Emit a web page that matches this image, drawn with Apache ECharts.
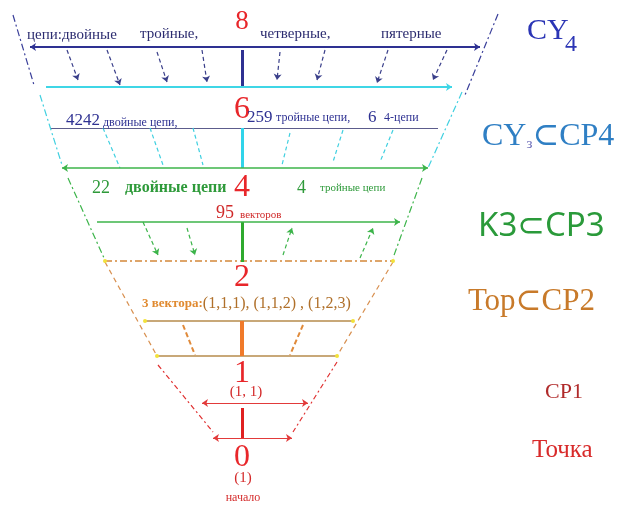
<!DOCTYPE html>
<html><head><meta charset="utf-8">
<script src="https://cdn.jsdelivr.net/npm/echarts@6/dist/echarts.min.js"></script>
<style>html,body{margin:0;padding:0;background:#fff}#c{width:622px;height:516px}</style>
</head><body><div id="c"></div>
<script>
// ---- data (diagram coordinates on a hidden 622x516 value grid) ----
const levelLabels = ['8', '6', '4', '2', '1', '0'];
const levelY = [22, 110, 188, 278, 374, 458];
const levelX = 242;

// horizontal rungs
const rungY  = [47, 87, 128, 168, 222, 261, 321, 356, 403, 438];
const rungX1 = [30, 46, 50, 62, 97, 105, 145, 157, 202, 213];
const rungX2 = [480, 452, 438, 428, 400, 393, 353, 337, 308, 292];
const rungKind = ['navy', 'cyan', 'navyThin', 'green', 'green', 'orangeDash', 'tan', 'tan', 'red', 'red'];
const rungArrow = ['both', 'end', 'none', 'both', 'end', 'none', 'none', 'none', 'both', 'both'];

// central stems
const stemTop = [50, 128, 222, 321, 408];
const stemBottom = [87, 168, 262, 356, 438];
const stemKind = ['navyBar', 'cyanBar', 'greenBar', 'orangeBar', 'redBar'];

// outer funnel edges [x1,y1,x2,y2]
const edges = [
  [13, 15, 34, 85], [498, 14, 465, 95],
  [40, 95, 62, 165], [462, 92, 428, 168],
  [68, 178, 104, 258], [422, 178, 393, 258],
  [105, 262, 157, 356], [393, 262, 337, 356],
  [158, 365, 213, 432], [337, 362, 293, 432]
];
const edgeKind = ['navyEdge', 'navyEdge', 'cyanEdge', 'cyanEdge', 'greenEdge', 'greenEdge', 'orangeEdge', 'orangeEdge', 'redEdge', 'redEdge'];

// slanted connectors [x1,y1,x2,y2] (arrow at second point when arrowed)
const slantsArrow = [
  [67, 50, 78, 80], [107, 50, 120, 85], [157, 52, 167, 82], [202, 50, 207, 82],
  [280, 52, 277, 80], [325, 50, 317, 80], [388, 50, 377, 83], [447, 50, 433, 80],
  [143, 222, 158, 255], [187, 228, 195, 255], [283, 255, 292, 228], [360, 258, 373, 228]
];
const slantsArrowKind = ['navySl', 'navySl', 'navySl', 'navySl', 'navySl', 'navySl', 'navySl', 'navySl',
  'greenSl', 'greenSl', 'greenSl', 'greenSl'];
const slantsPlain = [
  [103, 128, 120, 168], [150, 128, 163, 165], [193, 128, 203, 165],
  [290, 133, 282, 165], [343, 130, 333, 162], [393, 130, 380, 162],
  [183, 325, 195, 355], [303, 325, 290, 355]
];
const slantsPlainKind = ['cyanSl', 'cyanSl', 'cyanSl', 'cyanSl', 'cyanSl', 'cyanSl', 'orangeSl', 'orangeSl'];

// yellow end dots
const dotsX = [105, 393, 145, 353, 157, 337];
const dotsY = [261, 261, 321, 321, 356, 356];

// text labels [x, y, text, style, anchor]
const texts = [
  [27, 35, 'цепи:двойные', 'chain', 'l'],
  [140, 34, 'тройные,', 'chain', 'l'],
  [260, 34, 'четверные,', 'chain', 'l'],
  [381, 34, 'пятерные', 'chain', 'l'],
  [66, 121, '4242', 'num6', 'l'],
  [103, 123, 'двойные цепи,', 'small6', 'l'],
  [247, 118, '259', 'num6', 'l'],
  [276, 118, 'тройные цепи,', 'small6', 'l'],
  [368, 118, '6', 'num6', 'l'],
  [384, 118, '4-цепи', 'small6', 'l'],
  [92, 188, '22', 'numG', 'l'],
  [125, 188, 'двойные цепи', 'boldG', 'l'],
  [297, 188, '4', 'numG', 'l'],
  [320, 188, 'тройные цепи', 'smallG', 'l'],
  [216, 213, '95', 'numR', 'l'],
  [240, 215, 'векторов', 'smallR', 'l'],
  [142, 304, '{a|3 вектора:}{b|(1,1,1), (1,1,2) , (1,2,3)}', 'vec', 'l'],
  [246, 392, '(1, 1)', 'paren', 'c'],
  [243, 478, '(1)', 'paren', 'c'],
  [243, 498, 'начало', 'start', 'c'],
  [527, 31, 'CY', 'cy', 'l'],
  [565, 45, '4', 'cySub', 'l'],
  [482, 137, '{a|CY}{b|з}{a|⊂CP4}', 'cy3', 'l'],
  [478, 227, 'K3⊂CP3', 'k3', 'l'],
  [468, 302, 'Тор⊂CP2', 'tor', 'l'],
  [545, 392, 'CP1', 'cp1', 'l'],
  [532, 450, 'Точка', 'pt', 'l']
];

// ---- styles ----
const SERIF = '"Liberation Serif","DejaVu Serif",serif';
const SANS = '"Noto Sans","DejaVu Sans",sans-serif';
const lineKinds = {
  navy: { color: '#2e3192', width: 2, type: 'solid' },
  cyan: { color: '#3fd6e6', width: 2, type: 'solid' },
  navyThin: { color: '#5c5c8c', width: 1, type: 'solid' },
  green: { color: '#3cb44a', width: 1.5, type: 'solid' },
  orangeDash: { color: '#d4883a', width: 1.5, type: [7, 3, 2, 3] },
  tan: { color: '#c8a878', width: 2, type: 'solid' },
  red: { color: '#e23a3a', width: 1, type: 'solid' },
  navyBar: { color: '#2e3192', width: 3, type: 'solid' },
  cyanBar: { color: '#30d4ea', width: 3, type: 'solid' },
  greenBar: { color: '#2eaa2e', width: 3, type: 'solid' },
  orangeBar: { color: '#f07a2a', width: 4, type: 'solid' },
  redBar: { color: '#e02020', width: 3, type: 'solid' },
  navyEdge: { color: '#3a3f9a', width: 1.2, type: [7, 3, 2, 3] },
  cyanEdge: { color: '#40d0e0', width: 1.2, type: [7, 3, 2, 3] },
  greenEdge: { color: '#3cb44a', width: 1.2, type: [7, 3, 2, 3] },
  orangeEdge: { color: '#d89050', width: 1.2, type: [5, 4] },
  redEdge: { color: '#e03030', width: 1.2, type: [5, 3, 2, 3] },
  navySl: { color: '#3a3f8a', width: 1.2, type: [4, 3] },
  greenSl: { color: '#3cb44a', width: 1.2, type: [4, 3] },
  cyanSl: { color: '#40d0e0', width: 1.2, type: [4, 3] },
  orangeSl: { color: '#e08a3a', width: 2, type: [5, 3] }
};
const textKinds = {
  lvl8: { color: '#e8262a', fontSize: 27, fontFamily: SERIF },
  lvl: { color: '#e8262a', fontSize: 32, fontFamily: SERIF },
  chain: { color: '#2c2c70', fontSize: 15, fontFamily: SERIF },
  num6: { color: '#2e3192', fontSize: 17, fontFamily: SERIF },
  small6: { color: '#2e3192', fontSize: 12, fontFamily: SERIF },
  numG: { color: '#2e9a3a', fontSize: 18, fontFamily: SERIF },
  boldG: { color: '#2e9a3a', fontSize: 16, fontFamily: SERIF, fontWeight: 'bold' },
  smallG: { color: '#2e9a3a', fontSize: 11, fontFamily: SERIF },
  numR: { color: '#d02a2a', fontSize: 18, fontFamily: SERIF },
  smallR: { color: '#d02a2a', fontSize: 11, fontFamily: SERIF },
  vec: { fontFamily: SERIF, rich: {
    a: { color: '#e08a30', fontSize: 13, fontWeight: 'bold', fontFamily: SERIF },
    b: { color: '#b0702a', fontSize: 16, fontFamily: SERIF } } },
  paren: { color: '#d42a2a', fontSize: 15, fontFamily: SERIF },
  start: { color: '#d42a2a', fontSize: 12, fontFamily: SERIF },
  cy: { color: '#2b35b5', fontSize: 30, fontFamily: SERIF },
  cySub: { color: '#2b35b5', fontSize: 24, fontFamily: SERIF },
  cy3: { fontFamily: SERIF, rich: {
    a: { color: '#2f7fc4', fontSize: 32, fontFamily: SERIF },
    b: { color: '#6a6ab8', fontSize: 15, fontFamily: SERIF, padding: [14, 0, 0, 0] } } },
  k3: { color: '#2a9a3a', fontSize: 33, fontFamily: SANS },
  tor: { color: '#c87a2a', fontSize: 31, fontFamily: SERIF },
  cp1: { color: '#b02a2a', fontSize: 22, fontFamily: SERIF },
  pt: { color: '#d82a2a', fontSize: 25, fontFamily: SERIF }
};

// ---- build series ----
function seg(c, kind) { return { coords: c, lineStyle: Object.assign({ opacity: 1, curveness: 0 }, lineKinds[kind]) }; }
const bothData = [], endData = [], plainData = [];
rungY.forEach((y, i) => {
  const d = seg([[rungX1[i], y], [rungX2[i], y]], rungKind[i]);
  if (rungArrow[i] === 'both') bothData.push(d);
  else if (rungArrow[i] === 'end') endData.push(d);
  else plainData.push(d);
});
stemTop.forEach((t, i) => plainData.push(seg([[levelX, t], [levelX, stemBottom[i]]], stemKind[i])));
edges.forEach((e, i) => plainData.push(seg([[e[0], e[1]], [e[2], e[3]]], edgeKind[i])));
slantsPlain.forEach((e, i) => plainData.push(seg([[e[0], e[1]], [e[2], e[3]]], slantsPlainKind[i])));
slantsArrow.forEach((e, i) => endData.push(seg([[e[0], e[1]], [e[2], e[3]]], slantsArrowKind[i])));

const labelData = [];
levelLabels.forEach((t, i) => labelData.push([levelX, levelY[i], t, i === 0 ? 'lvl8' : 'lvl', 'c']));
texts.forEach(t => labelData.push(t));
const labelItems = labelData.map(t => ({
  value: [t[0], t[1]],
  label: Object.assign({
    show: true, formatter: t[2], opacity: 1,
    position: t[4] === 'c' ? 'inside' : 'right', distance: 0,
    align: t[4] === 'c' ? 'center' : 'left', verticalAlign: 'middle'
  }, textKinds[t[3]])
}));

const common = { type: 'lines', coordinateSystem: 'cartesian2d', silent: true, animation: false, z: 2,
  lineStyle: { opacity: 1 } };
const chart = echarts.init(document.getElementById('c'), null, { renderer: 'canvas' });
chart.setOption({
  backgroundColor: '#ffffff',
  animation: false,
  grid: { left: 0, right: 0, top: 0, bottom: 0, containLabel: false },
  xAxis: { type: 'value', min: 0, max: 622, show: false },
  yAxis: { type: 'value', min: 0, max: 516, inverse: true, show: false },
  series: [
    Object.assign({}, common, { name: 'plain', symbol: ['none', 'none'], data: plainData }),
    Object.assign({}, common, { name: 'end', symbol: ['none', 'arrow'], symbolSize: 6, data: endData }),
    Object.assign({}, common, { name: 'both', symbol: ['arrow', 'arrow'], symbolSize: 6, data: bothData }),
    { type: 'scatter', name: 'dots', symbolSize: 4, itemStyle: { color: '#f2e23a', opacity: 1 }, silent: true, z: 3,
      data: dotsX.map((x, i) => [x, dotsY[i]]) },
    { type: 'scatter', name: 'text', symbolSize: 0, silent: true, z: 4, itemStyle: { opacity: 1 }, data: labelItems }
  ]
});
</script></body></html>
